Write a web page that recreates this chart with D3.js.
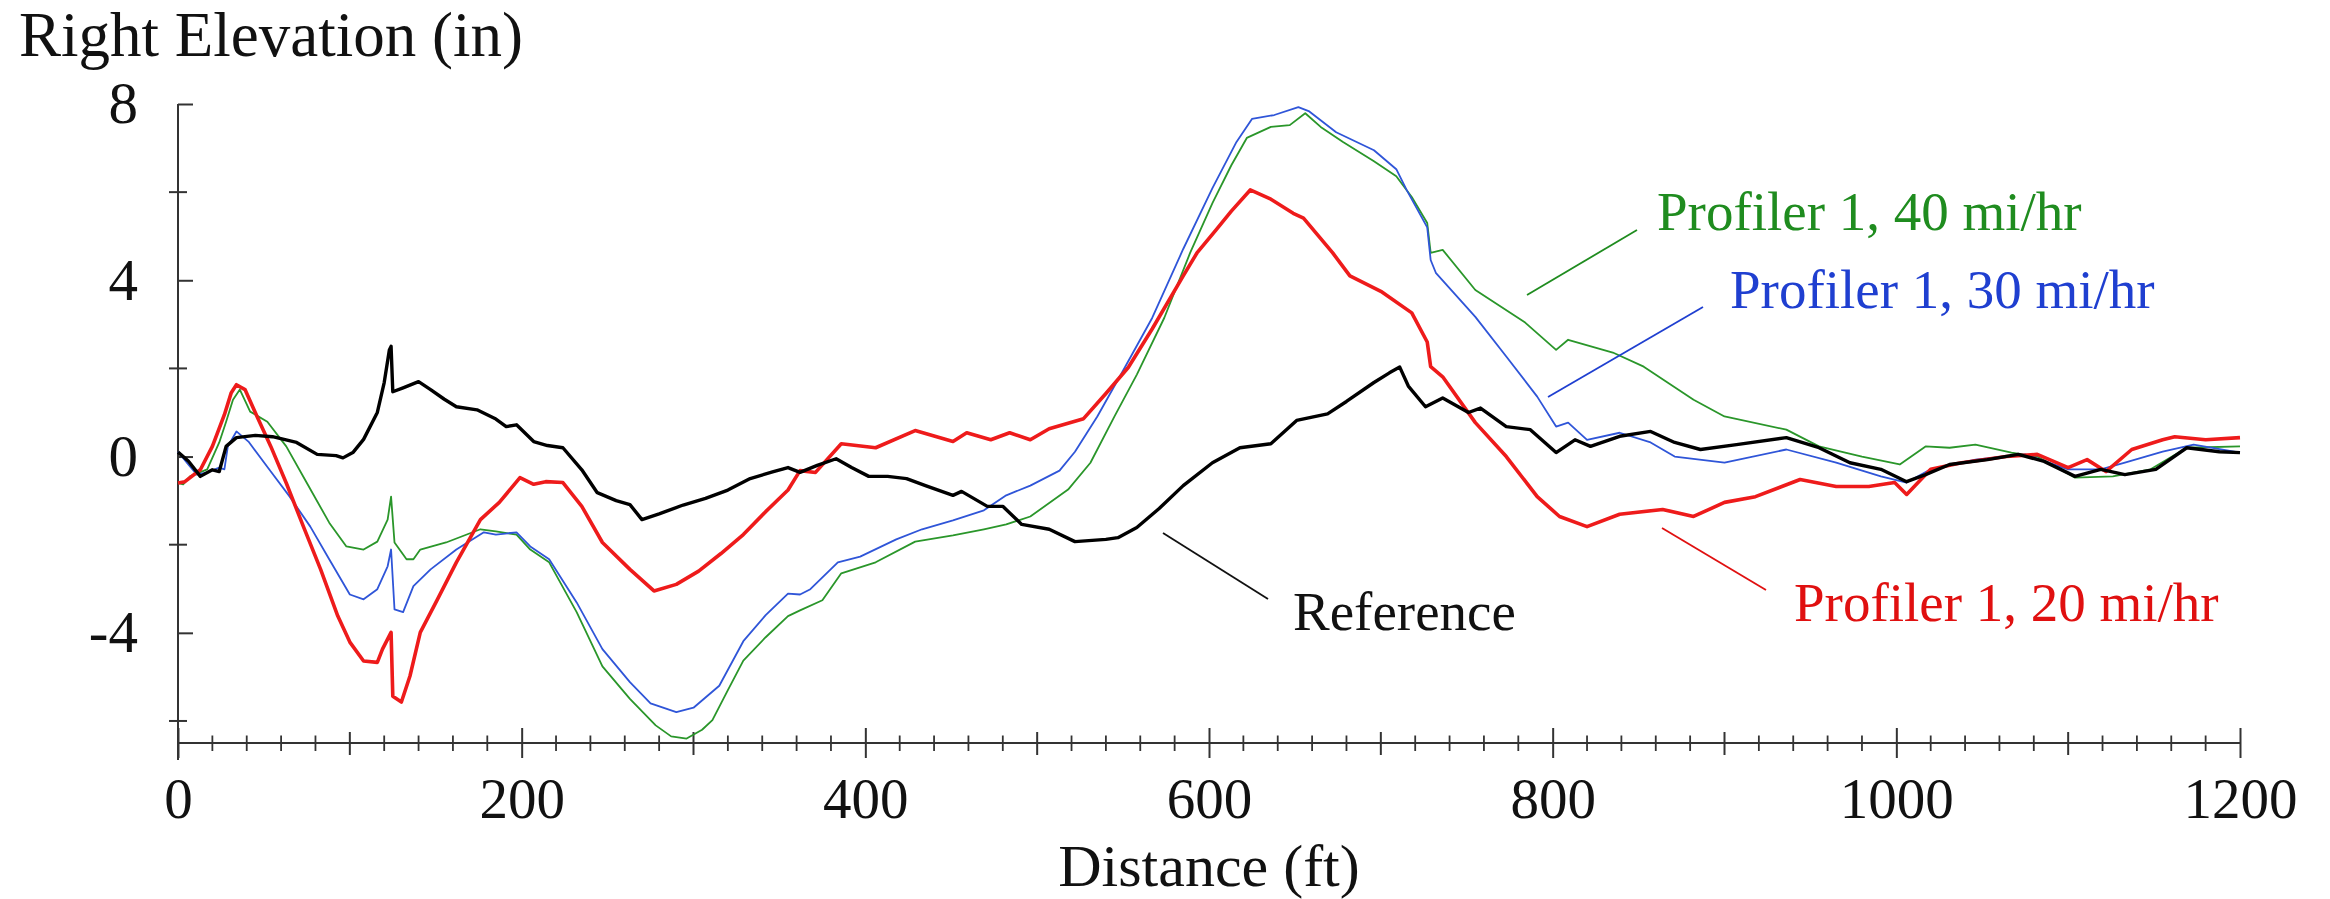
<!DOCTYPE html>
<html>
<head>
<meta charset="utf-8">
<script src="https://cdnjs.cloudflare.com/ajax/libs/d3/7.8.5/d3.min.js"></script>
<style>
body { margin: 0; background: #fff; }
text { font-family: "Liberation Serif", "Times New Roman", serif; }
</style>
</head>
<body>
<div id="graphic"></div>
<script>
var referencePts = [[0,0.1],[6,-0.1],[13,-0.45],[20,-0.3],[24,-0.34],[28,0.23],[34,0.43],[45,0.48],[55,0.45],[69,0.32],[81,0.05],[92,0.02],[96,-0.03],[102,0.1],[108,0.39],[116,1.0],[120,1.68],[123,2.42],[124,2.5],[125,1.47],[131,1.56],[140,1.7],[147,1.52],[155,1.3],[162,1.13],[174,1.06],[185,0.85],[191,0.68],[197,0.72],[207,0.34],[215,0.25],[224,0.2],[235,-0.3],[244,-0.82],[255,-1.0],[263,-1.09],[270,-1.43],[280,-1.3],[294,-1.1],[307,-0.95],[320,-0.76],[333,-0.5],[346,-0.35],[355,-0.25],[362,-0.36],[372,-0.2],[383,-0.05],[392,-0.25],[402,-0.45],[413,-0.45],[424,-0.5],[435,-0.66],[451,-0.88],[456,-0.79],[471,-1.13],[480,-1.13],[491,-1.54],[507,-1.65],[522,-1.93],[540,-1.88],[547,-1.84],[558,-1.61],[571,-1.18],[585,-0.66],[602,-0.14],[618,0.2],[636,0.29],[651,0.82],[669,0.97],[680,1.25],[696,1.68],[705,1.9],[711,2.03],[716,1.6],[726,1.13],[736,1.33],[751,1.0],[758,1.1],[773,0.68],[787,0.61],[802,0.09],[813,0.38],[822,0.23],[839,0.46],[857,0.57],[871,0.32],[886,0.16],[907,0.27],[936,0.43],[955,0.2],[973,-0.14],[991,-0.29],[1006,-0.57],[1017,-0.41],[1031,-0.18],[1053,-0.07],[1071,0.05],[1086,-0.11],[1104,-0.45],[1119,-0.29],[1133,-0.41],[1151,-0.29],[1169,0.2],[1188,0.11],[1200,0.09]];

var mph20Pts = [[0,-0.6],[4,-0.57],[13,-0.3],[20,0.23],[27,0.95],[31,1.45],[34,1.63],[39,1.52],[46,0.91],[54,0.23],[63,-0.6],[73,-1.59],[83,-2.56],[93,-3.62],[100,-4.21],[108,-4.64],[116,-4.67],[119,-4.37],[124,-3.99],[125,-5.44],[130,-5.57],[135,-4.98],[141,-3.99],[151,-3.24],[162,-2.4],[176,-1.43],[187,-1.04],[199,-0.48],[207,-0.63],[214,-0.57],[224,-0.59],[235,-1.13],[247,-1.95],[263,-2.56],[277,-3.05],[290,-2.9],[303,-2.6],[316,-2.2],[329,-1.77],[342,-1.25],[355,-0.76],[362,-0.32],[371,-0.36],[386,0.29],[406,0.2],[429,0.59],[451,0.34],[459,0.54],[473,0.38],[484,0.54],[496,0.38],[507,0.63],[527,0.86],[540,1.43],[553,2.02],[567,2.9],[585,4.1],[593,4.62],[604,5.14],[613,5.57],[624,6.05],[636,5.84],[649,5.52],[655,5.41],[672,4.62],[682,4.1],[700,3.75],[718,3.26],[727,2.6],[729,2.04],[736,1.81],[755,0.77],[773,0],[791,-0.91],[804,-1.36],[820,-1.59],[839,-1.31],[864,-1.2],[882,-1.36],[900,-1.04],[918,-0.91],[944,-0.52],[965,-0.68],[984,-0.68],[999,-0.59],[1006,-0.86],[1020,-0.29],[1038,-0.14],[1064,0],[1082,0.05],[1100,-0.25],[1111,-0.07],[1122,-0.34],[1137,0.16],[1155,0.38],[1162,0.45],[1180,0.38],[1200,0.43]];

var mph30Pts = [[0,0.11],[6,-0.18],[11,-0.41],[17,-0.36],[24,-0.25],[27,-0.29],[29,0.23],[34,0.57],[41,0.34],[54,-0.34],[65,-0.91],[77,-1.59],[88,-2.33],[100,-3.13],[108,-3.24],[116,-3.01],[122,-2.49],[124,-2.11],[126,-3.47],[131,-3.53],[137,-2.94],[147,-2.56],[162,-2.11],[178,-1.72],[185,-1.77],[197,-1.72],[205,-2.04],[216,-2.33],[232,-3.31],[247,-4.37],[263,-5.12],[275,-5.6],[290,-5.8],[300,-5.7],[315,-5.2],[329,-4.19],[342,-3.6],[355,-3.11],[362,-3.13],[368,-3.01],[384,-2.4],[397,-2.27],[418,-1.88],[433,-1.65],[451,-1.45],[469,-1.22],[482,-0.88],[496,-0.66],[513,-0.32],[522,0.11],[535,0.91],[551,2.02],[567,3.15],[585,4.71],[602,6.09],[616,7.14],[625,7.66],[638,7.75],[652,7.93],[658,7.84],[674,7.36],[696,6.95],[709,6.52],[715,6.05],[727,5.2],[729,4.46],[732,4.17],[755,3.17],[773,2.27],[791,1.36],[802,0.68],[809,0.77],[820,0.38],[839,0.54],[857,0.32],[871,0],[900,-0.14],[936,0.16],[965,-0.14],[991,-0.45],[1006,-0.59],[1020,-0.29],[1046,-0.07],[1075,0.05],[1100,-0.29],[1119,-0.29],[1133,-0.14],[1155,0.11],[1173,0.27],[1200,0.09]];

var mph40Pts = [[0,-0.6],[3,-0.63],[7,-0.45],[17,-0.29],[24,0.32],[28,0.79],[32,1.29],[36,1.52],[42,1.02],[52,0.79],[63,0.23],[75,-0.6],[88,-1.5],[98,-2.04],[108,-2.11],[116,-1.93],[122,-1.43],[124,-0.91],[126,-1.95],[133,-2.33],[137,-2.33],[141,-2.11],[156,-1.95],[176,-1.65],[185,-1.7],[197,-1.77],[205,-2.11],[216,-2.4],[232,-3.53],[247,-4.76],[263,-5.5],[278,-6.1],[287,-6.35],[296,-6.4],[305,-6.2],[311,-5.98],[320,-5.3],[329,-4.63],[342,-4.1],[355,-3.62],[362,-3.49],[375,-3.26],[386,-2.65],[406,-2.4],[429,-1.93],[451,-1.79],[469,-1.65],[482,-1.54],[496,-1.36],[518,-0.75],[531,-0.14],[545,0.91],[558,1.86],[574,3.15],[589,4.62],[602,5.75],[613,6.61],[622,7.23],[636,7.48],[647,7.52],[656,7.79],[665,7.48],[678,7.14],[696,6.7],[709,6.36],[718,5.89],[727,5.3],[729,4.62],[736,4.69],[755,3.78],[784,3.04],[802,2.42],[809,2.65],[835,2.36],[853,2.04],[882,1.29],[900,0.91],[936,0.61],[955,0.23],[980,0],[1002,-0.18],[1017,0.23],[1031,0.2],[1046,0.27],[1067,0.09],[1082,0],[1104,-0.48],[1126,-0.45],[1148,-0.29],[1169,0.2],[1200,0.23]];

var yTickLabels = [-4, 0, 4, 8],
    yMinorTicks = [-6, -2, 2, 6],
    xTickLabels = [0, 200, 400, 600, 800, 1000, 1200],
    xMidTicks = [100, 300, 500, 700, 900, 1100];

var seriesNames = ["Profiler 1, 40 mi/hr", "Profiler 1, 30 mi/hr", "Profiler 1, 20 mi/hr", "Reference"];

var width = 2330,
    height = 899;
var margin = {
    top: 104,
    right: 90,
    bottom: 156,
    left: 178
};

var svg = d3.select("#graphic").append("svg")
    .attr("width", width)
    .attr("height", height);

var x = d3.scaleLinear().domain([0, 1200]).range([margin.left, width - margin.right]);
var y = d3.scaleLinear().domain([-6.5, 8]).range([height - margin.bottom, margin.top]);

var axisColor = "#333";
var plain = function (d) { return String(d); }; // hyphen minus, no thousands comma

// y axis
var yAxis = svg.append("g")
    .attr("transform", "translate(" + x(0) + ",0)")
    .call(d3.axisLeft(y).tickValues(yTickLabels).tickFormat(plain).tickSize(15).tickSizeOuter(0).tickPadding(25));
yAxis.select(".domain").remove();
yAxis.selectAll(".tick line").attr("x2", 15).attr("stroke", axisColor).attr("stroke-width", 2);
yAxis.selectAll(".tick text").attr("font-size", 59).attr("fill", "#111");

svg.append("g").selectAll("line")
    .data(yMinorTicks)
    .join("line")
    .attr("x1", x(0) - 9).attr("x2", x(0) + 9)
    .attr("y1", function (d) { return y(d); })
    .attr("y2", function (d) { return y(d); })
    .attr("stroke", axisColor).attr("stroke-width", 2);

svg.append("line")
    .attr("x1", x(0)).attr("x2", x(0))
    .attr("y1", y(8)).attr("y2", y(-6.5) + 17)
    .attr("stroke", axisColor).attr("stroke-width", 2);

// x axis
var xAxis = svg.append("g")
    .attr("transform", "translate(0," + y(-6.5) + ")")
    .call(d3.axisBottom(x).tickValues(xTickLabels).tickFormat(plain).tickSize(15).tickSizeOuter(0).tickPadding(20));
xAxis.select(".domain").remove();
xAxis.selectAll(".tick line").attr("y1", -15).attr("stroke", axisColor).attr("stroke-width", 2);
xAxis.selectAll(".tick text").attr("font-size", 57).attr("fill", "#111");

svg.append("g").selectAll("line")
    .data(d3.range(20, 1200, 20).filter(function (d) { return d % 100 !== 0; }))
    .join("line")
    .attr("x1", function (d) { return x(d); })
    .attr("x2", function (d) { return x(d); })
    .attr("y1", y(-6.5) - 7.5).attr("y2", y(-6.5) + 8)
    .attr("stroke", axisColor).attr("stroke-width", 1.8);

svg.append("g").selectAll("line")
    .data(xMidTicks)
    .join("line")
    .attr("x1", function (d) { return x(d); })
    .attr("x2", function (d) { return x(d); })
    .attr("y1", y(-6.5) - 11).attr("y2", y(-6.5) + 12)
    .attr("stroke", axisColor).attr("stroke-width", 2);

svg.append("line")
    .attr("x1", x(0)).attr("x2", x(1200))
    .attr("y1", y(-6.5)).attr("y2", y(-6.5))
    .attr("stroke", axisColor).attr("stroke-width", 2);

// axis titles
svg.append("text")
    .attr("x", 19).attr("y", 56)
    .attr("font-size", 63).attr("fill", "#111")
    .text("Right Elevation (in)");

svg.append("text")
    .attr("x", (x(0) + x(1200)) / 2).attr("y", 886)
    .attr("text-anchor", "middle")
    .attr("font-size", 60).attr("fill", "#111")
    .text("Distance (ft)");

// profiles
var line = d3.line()
    .x(function (d) { return x(d[0]); })
    .y(function (d) { return y(d[1]); });

var series = [
    { pts: mph40Pts, color: "#2a962a", w: 1.8 },
    { pts: mph30Pts, color: "#2f55d8", w: 1.8 },
    { pts: mph20Pts, color: "#ee1b1b", w: 3.6 },
    { pts: referencePts, color: "#000000", w: 3.4 }
];

svg.append("g").selectAll("path")
    .data(series)
    .join("path")
    .attr("d", function (d) { return line(d.pts); })
    .attr("fill", "none")
    .attr("stroke", function (d) { return d.color; })
    .attr("stroke-width", function (d) { return d.w; })
    .attr("stroke-linejoin", "round");

// labels with leader lines
var labels = [
    { text: seriesNames[0], color: "#1f8c1f", tx: 1657, ty: 230, lx1: 1527, ly1: 295, lx2: 1637, ly2: 230 },
    { text: seriesNames[1], color: "#1f3fd0", tx: 1730, ty: 308, lx1: 1548, ly1: 397, lx2: 1703, ly2: 307 },
    { text: seriesNames[2], color: "#e01010", tx: 1794, ty: 621, lx1: 1662, ly1: 528, lx2: 1766, ly2: 590 },
    { text: seriesNames[3], color: "#111111", tx: 1293, ty: 630, lx1: 1163, ly1: 533, lx2: 1268, ly2: 599 }
];

var lab = svg.append("g").selectAll("g")
    .data(labels)
    .join("g");

lab.append("line")
    .attr("x1", function (d) { return d.lx1; })
    .attr("y1", function (d) { return d.ly1; })
    .attr("x2", function (d) { return d.lx2; })
    .attr("y2", function (d) { return d.ly2; })
    .attr("stroke", function (d) { return d.color; })
    .attr("stroke-width", 1.8);

lab.append("text")
    .attr("x", function (d) { return d.tx; })
    .attr("y", function (d) { return d.ty; })
    .attr("font-size", 55)
    .attr("fill", function (d) { return d.color; })
    .text(function (d) { return d.text; });
</script>
</body>
</html>
